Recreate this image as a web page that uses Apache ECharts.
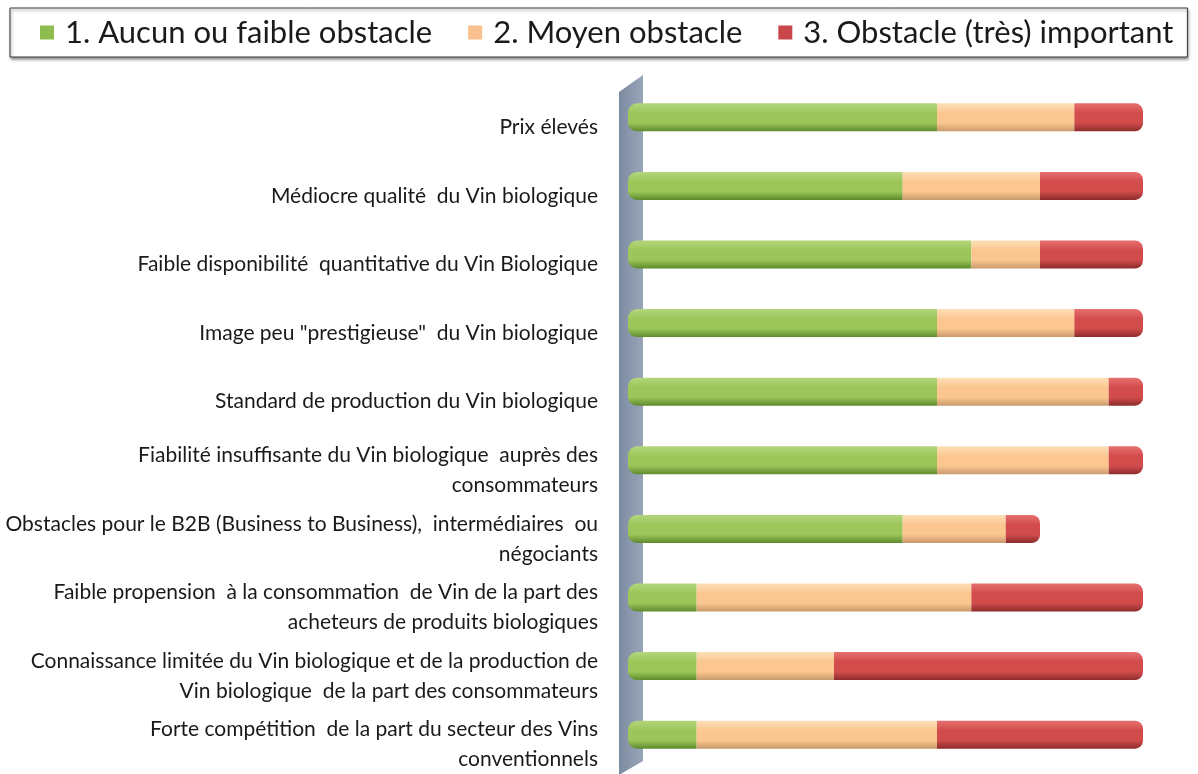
<!DOCTYPE html>
<html><head><meta charset="utf-8">
<script src="https://cdn.jsdelivr.net/npm/echarts@6/dist/echarts.min.js"></script>
<style>html,body{margin:0;padding:0;background:#fff}#c{width:1198px;height:774px}</style>
</head><body><div id="c"></div>
<script>
const categories = [
  "Prix élevés",
  "Médiocre qualité  du Vin biologique",
  "Faible disponibilité  quantitative du Vin Biologique",
  "Image peu \"prestigieuse\"  du Vin biologique",
  "Standard de production du Vin biologique",
  "Fiabilité insuffisante du Vin biologique  auprès des\nconsommateurs",
  "Obstacles pour le B2B (Business to Business),  intermédiaires  ou\nnégociants",
  "Faible propension  à la consommation  de Vin de la part des\nacheteurs de produits biologiques",
  "Connaissance limitée du Vin biologique et de la production de\nVin biologique  de la part des consommateurs",
  "Forte compétition  de la part du secteur des Vins\nconventionnels"
];
const seriesNames = ["1. Aucun ou faible obstacle", "2. Moyen obstacle", "3. Obstacle (très) important"];
const aucun  = [9, 8, 10, 9, 9, 9, 8, 2, 2, 2];
const moyen  = [4, 4, 2, 4, 5, 5, 3, 8, 4, 7];
const import_ = [2, 3, 3, 2, 1, 1, 1, 5, 9, 6];

const G = {left: 628, top: 83, width: 515, height: 686};

function grad(top, mid, bot) {
  return new echarts.graphic.LinearGradient(0, 0, 0, 1, [
    {offset: 0, color: top}, {offset: 0.35, color: mid}, {offset: 0.7, color: mid}, {offset: 1, color: bot}
  ]);
}
const colors = [
  grad('#b3d67c', '#9cc65a', '#5d8a2c'),
  grad('#fde0b8', '#fbc68f', '#c89a6c'),
  grad('#e87070', '#d24c4c', '#8c2c2c')
];
const legendColors = ['#8fbc4f', '#f9bf8c', '#c9474a'];

const chart = echarts.init(document.getElementById('c'), null, {renderer: 'canvas'});
const datas = [aucun, moyen, import_];
const series = datas.map((d, i) => ({
  name: seriesNames[i],
  type: 'bar',
  stack: 'total',
  barWidth: 28,
  data: d,
  itemStyle: {
    color: colors[i],
    borderRadius: i === 0 ? [9, 0, 0, 9] : (i === 2 ? [0, 8, 8, 0] : 0)
  },
  emphasis: {disabled: true}
}));

chart.setOption({
  animation: false,
  color: legendColors,
  textStyle: {fontFamily: 'Lato'},
  legend: {
    top: 8,
    left: 10,
    width: 1170,
    icon: 'rect',
    data: seriesNames.map((n, i) => ({name: n, itemStyle: {color: legendColors[i]}})),
    itemWidth: 14, itemHeight: 14, itemGap: 36,
    padding: [9, 14, 9, 30],
    backgroundColor: '#fff',
    borderColor: '#3a3a3a', borderWidth: 1,
    shadowColor: 'rgba(0,0,0,0.45)', shadowBlur: 3, shadowOffsetX: 1, shadowOffsetY: 2,
    textStyle: {fontSize: 31, color: '#1a1a1a', fontFamily: 'Lato', padding: [0, 0, 0, 6]}
  },
  grid: {left: G.left, top: G.top, width: G.width, height: G.height, containLabel: false},
  xAxis: {type: 'value', min: 0, max: 15, show: false},
  yAxis: {
    type: 'category', data: categories, inverse: true,
    axisLine: {show: false}, axisTick: {show: false},
    axisLabel: {
      interval: 0, margin: 30, align: 'right',
      formatter: v => '{s|}\n' + v.split('\n').map(l => '{t|' + l + '}').join('\n'),
      rich: {
        s: {height: 20, lineHeight: 20, fontSize: 10},
        t: {fontSize: 21, lineHeight: 30, color: '#1a1a1a', fontFamily: 'Lato', align: 'right'}
      }
    }
  },
  graphic: [{
    type: 'polygon', z: 0, silent: true,
    shape: {points: [
      [G.left - 9, G.top + 9], [G.left + 15, G.top - 8],
      [G.left + 15, G.top + G.height - 8], [G.left - 9, G.top + G.height + 6]
    ]},
    style: {fill: new echarts.graphic.LinearGradient(0, 0, 1, 0, [
      {offset: 0, color: '#7d8ba2'}, {offset: 1, color: '#98a5b8'}])}
  }],
  series
});
</script></body></html>
